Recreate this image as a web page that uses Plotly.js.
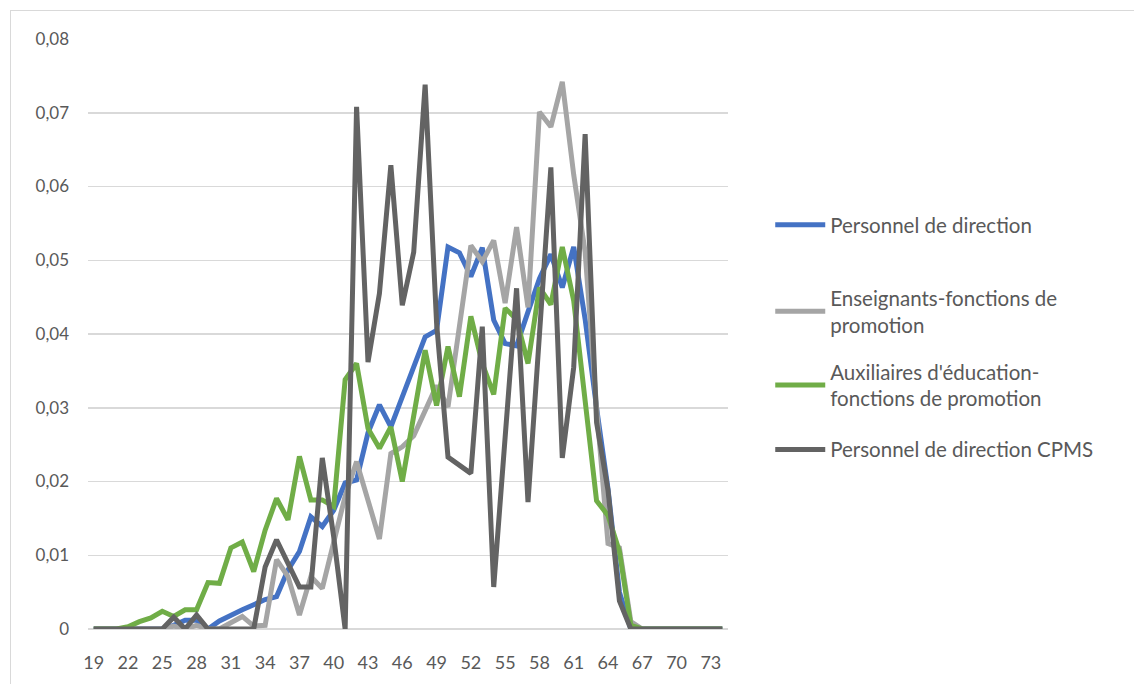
<!DOCTYPE html>
<html>
<head>
<meta charset="utf-8">
<script src="https://cdn.plot.ly/plotly-3.0.1.min.js"></script>
<style>
  html, body { margin: 0; padding: 0; background: #ffffff; overflow: hidden; }
  #chart { position: absolute; left: 0; top: 0; width: 1134px; height: 684px; }
  #frame { position: absolute; left: 10px; top: 10px; width: 1200px; height: 800px; border: 1px solid #d9d9d9; box-sizing: border-box; pointer-events: none; z-index: 5; }
</style>
</head>
<body>
<div id="chart"></div>
<div id="frame"></div>
<script>
const ages = [19,20,21,22,23,24,25,26,27,28,29,30,31,32,33,34,35,36,37,38,39,40,41,42,43,44,45,46,47,48,49,50,51,52,53,54,55,56,57,58,59,60,61,62,63,64,65,66,67,68,69,70,71,72,73,74];

const personnelDirection = [0,0,0,0,0,0,0,0.0005,0.0012,0.0012,0,0.0011,0.0019,0.0026,0.0033,0.004,0.0044,0.008,0.0105,0.0152,0.0139,0.0161,0.0198,0.0202,0.0266,0.0304,0.0274,0.0315,0.0356,0.0396,0.0405,0.0518,0.051,0.0478,0.0517,0.0419,0.0387,0.0384,0.043,0.0475,0.0508,0.0463,0.0518,0.042,0.03,0.019,0.005,0,0,0,0,0,0,0,0,0];

const enseignants = [0,0,0,0,0,0,0,0.0004,0,0.0005,0,0,0.0008,0.0017,0.0004,0.0005,0.0094,0.0071,0.0019,0.0071,0.0055,0.0115,0.018,0.0227,0.0175,0.0122,0.0238,0.0247,0.0262,0.0295,0.033,0.0301,0.0405,0.052,0.0498,0.0527,0.0442,0.0545,0.0436,0.0701,0.0681,0.0742,0.0616,0.0511,0.03,0.0116,0.011,0.001,0,0,0,0,0,0,0,0];

const auxiliaires = [0,0,0,0.0003,0.001,0.0015,0.0024,0.0017,0.0026,0.0026,0.0063,0.0062,0.011,0.0118,0.0078,0.0134,0.0177,0.0148,0.0234,0.0175,0.0175,0.0166,0.0338,0.036,0.0272,0.0245,0.0274,0.02,0.0285,0.0378,0.0303,0.0383,0.0315,0.0424,0.036,0.0318,0.0435,0.042,0.036,0.0463,0.044,0.0518,0.0445,0.0303,0.0174,0.0154,0.0105,0.0005,0,0,0,0,0,0,0,0];

const personnelCPMS = [0,0,0,0,0,0,0,0.0016,0,0.0019,0,0,0,0,0,0.0084,0.0121,0.0089,0.0057,0.0057,0.0232,0.0125,0,0.0708,0.0362,0.0455,0.0629,0.0439,0.0511,0.0738,0.0415,0.0233,0.0222,0.0211,0.041,0.0057,0.026,0.0462,0.0172,0.04,0.0626,0.0232,0.0355,0.0671,0.028,0.0188,0.0038,0,0,0,0,0,0,0,0,0];

const seriesNames = ["Personnel de direction", "Enseignants-fonctions de<br>promotion", "Auxiliaires d'éducation-<br>fonctions de promotion", "Personnel de direction CPMS"];
const seriesColors = ["#4472C4", "#A5A5A5", "#70AD47", "#636363"];
const yTickVals = [0, 0.01, 0.02, 0.03, 0.04, 0.05, 0.06, 0.07, 0.08];
const yTickText = ["0", "0,01", "0,02", "0,03", "0,04", "0,05", "0,06", "0,07", "0,08"];
const xTickVals = [19,22,25,28,31,34,37,40,43,46,49,52,55,58,61,64,67,70,73];

const seriesData = [personnelDirection, enseignants, auxiliaires, personnelCPMS];
const legendIds = ["legend", "legend2", "legend3", "legend4"];

const traces = seriesData.map((vals, i) => ({
  type: "scatter",
  mode: "lines",
  x: ages,
  y: vals,
  name: seriesNames[i],
  legend: legendIds[i],
  line: { color: seriesColors[i], width: 5, shape: "linear" },
  hoverinfo: "x+y+name"
}));

const textColor = "#595959";
const fontFam = "Lato, 'Open Sans', 'Liberation Sans', sans-serif";

function legendAt(y) {
  return {
    x: 1.066, y: y, xref: "paper", yref: "paper", xanchor: "left", yanchor: "middle",
    bgcolor: "rgba(0,0,0,0)", borderwidth: 0,
    font: { family: fontFam, size: 20.5, color: textColor },
    itemwidth: 50, tracegroupgap: 0
  };
}

const layout = {
  width: 1134,
  height: 684,
  margin: { l: 88, r: 406, t: 39, b: 55 },
  paper_bgcolor: "#ffffff",
  plot_bgcolor: "#ffffff",
  font: { family: fontFam, color: textColor, size: 17 },
  showlegend: true,
  xaxis: {
    type: "linear",
    range: [18.5, 74.5],
    tickvals: xTickVals,
    showgrid: false,
    zeroline: false,
    showline: false,
    ticks: "",
    ticklabelstandoff: 21,
    tickfont: { family: fontFam, size: 18, color: textColor }
  },
  yaxis: {
    range: [0, 0.08],
    tickvals: yTickVals,
    ticktext: yTickText,
    showgrid: true,
    gridcolor: "#D9D9D9",
    gridwidth: 1.5,
    zeroline: true,
    zerolinecolor: "#D9D9D9",
    zerolinewidth: 1.5,
    showline: false,
    ticks: "",
    ticklabelstandoff: 18,
    tickfont: { family: fontFam, size: 17, color: textColor }
  },
  legend: legendAt(0.685),
  legend2: legendAt(0.538),
  legend3: legendAt(0.413),
  legend4: legendAt(0.304)
};

Plotly.newPlot("chart", traces, layout, { displayModeBar: false, staticPlot: true });
</script>
</body>
</html>
